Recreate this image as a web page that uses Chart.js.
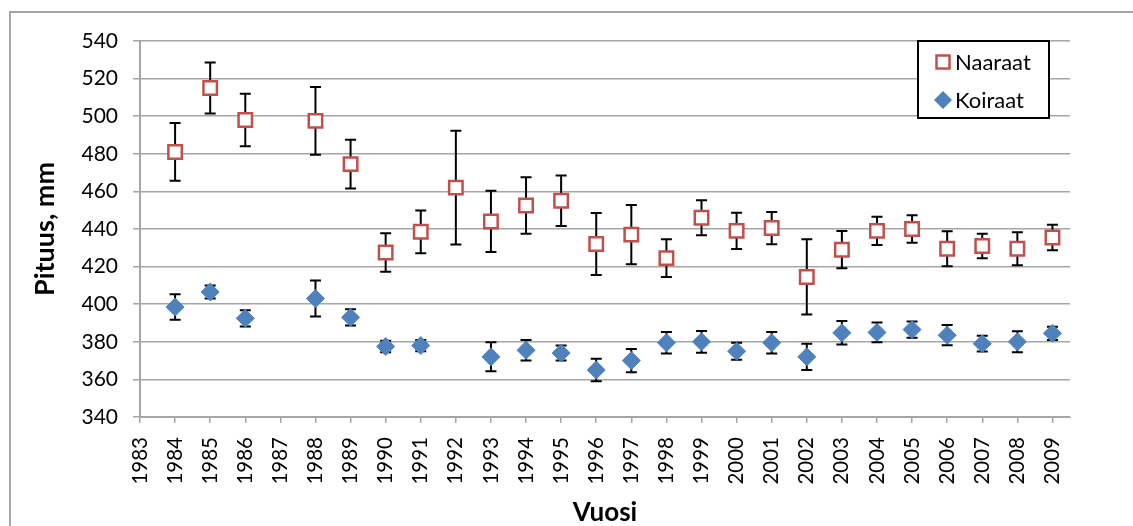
<!DOCTYPE html>
<html>
<head>
<meta charset="utf-8">
<script src="https://cdn.jsdelivr.net/npm/chart.js@4/dist/chart.umd.min.js"></script>
<style>
    html, body { margin: 0; padding: 0; background: #fff; overflow: hidden; }
    #frame { position: absolute; left: 9px; top: 11px; width: 1200px; height: 600px; border: 2px solid #a6a6a6; }
    #chart { position: absolute; left: 0; top: 0; }
</style>
</head>
<body>
<div id="frame"></div>
<canvas id="chart" width="1133" height="526"></canvas>
<script>
// Years shown on the x axis
const vuodet = [1983, 1984, 1985, 1986, 1987, 1988, 1989, 1990, 1991, 1992, 1993, 1994, 1995, 1996,
    1997, 1998, 1999, 2000, 2001, 2002, 2003, 2004, 2005, 2006, 2007, 2008, 2009];

// Naaraat: mean length (mm) and +/- deviation per year
const naaraatVuodet = [1984, 1985, 1986, 1988, 1989, 1990, 1991, 1992, 1993, 1994, 1995, 1996,
    1997, 1998, 1999, 2000, 2001, 2002, 2003, 2004, 2005, 2006, 2007, 2008, 2009];
const naaraatPituus = [481, 515, 498, 497.5, 474.5, 427.5, 438.5, 462, 444, 452.5, 455, 432,
    437, 424.5, 446, 439, 440.5, 414.5, 429, 439, 440, 429.5, 431, 429.5, 435.5];
const naaraatHajonta = [15.4, 13.5, 14, 18, 13, 10.2, 11.4, 30.2, 16.3, 15, 13.4, 16.5,
    15.7, 10, 9.3, 9.6, 8.6, 20, 9.9, 7.5, 7.3, 9.3, 6.5, 8.8, 6.8];

// Koiraat: mean length (mm) and +/- deviation per year
const koiraatVuodet = [1984, 1985, 1986, 1988, 1989, 1990, 1991, 1993, 1994, 1995, 1996,
    1997, 1998, 1999, 2000, 2001, 2002, 2003, 2004, 2005, 2006, 2007, 2008, 2009];
const koiraatPituus = [398.5, 406.5, 392.5, 403, 393, 377.5, 378, 372, 375.5, 374, 365,
    370, 379.5, 380, 375, 379.5, 372, 384.8, 385, 386.5, 383.5, 379, 380, 384.5];
const koiraatHajonta = [6.8, 3.5, 4.3, 9.6, 4.3, 3, 3, 7.7, 5.5, 4, 6,
    6.2, 5.7, 5.8, 4.5, 5.7, 7, 6.2, 5.3, 4.3, 5.4, 4.2, 5.6, 3.5];

const yTicks = [340, 360, 380, 400, 420, 440, 460, 480, 500, 520, 540];

const PUNAINEN = '#c0504d';
const SININEN = '#4f81bd';
const HARMAA = '#a6a6a6';
const FONTTI = 'Lato, "Open Sans", sans-serif';

function pisteet(vuodet, arvot) {
    return vuodet.map((v, i) => ({ x: v, y: arvot[i] }));
}

// error bars are drawn under the markers
const virhepalkit = {
    id: 'virhepalkit',
    beforeDatasetsDraw(chart) {
        const ctx = chart.ctx;
        const yScale = chart.scales.y;
        ctx.save();
        ctx.strokeStyle = '#000';
        ctx.lineWidth = 2;
        chart.data.datasets.forEach((ds, di) => {
            const meta = chart.getDatasetMeta(di);
            meta.data.forEach((pt, i) => {
                const arvo = ds.data[i].y;
                const e = ds.hajonta[i];
                const yYla = yScale.getPixelForValue(arvo + e);
                const yAla = yScale.getPixelForValue(arvo - e);
                const x = pt.x;
                ctx.beginPath();
                ctx.moveTo(x, yYla);
                ctx.lineTo(x, yAla);
                ctx.moveTo(x - 5.5, yYla);
                ctx.lineTo(x + 5.5, yYla);
                ctx.moveTo(x - 5.5, yAla);
                ctx.lineTo(x + 5.5, yAla);
                ctx.stroke();
            });
        });
        ctx.restore();
    }
};

// legend box in the upper right corner of the plot
const selite = {
    id: 'selite',
    afterDraw(chart) {
        const ctx = chart.ctx;
        const ca = chart.chartArea;
        const left = ca.right - 152, top = ca.top, w = 131, h = 77;
        ctx.save();
        ctx.fillStyle = '#fff';
        ctx.fillRect(left, top, w, h);
        ctx.strokeStyle = '#000';
        ctx.lineWidth = 2;
        ctx.strokeRect(left, top, w, h);

        chart.data.datasets.forEach((ds, i) => {
            const mx = left + 25;
            const my = top + 21 + i * 38;
            ctx.beginPath();
            if (ds.pointStyle === 'rect') {
                ctx.rect(mx - 6.5, my - 6.5, 13, 13);
                ctx.fillStyle = ds.pointBackgroundColor;
                ctx.fill();
                ctx.lineWidth = ds.pointBorderWidth;
                ctx.strokeStyle = ds.pointBorderColor;
                ctx.stroke();
            } else {
                ctx.moveTo(mx - 9, my);
                ctx.lineTo(mx, my - 9);
                ctx.lineTo(mx + 9, my);
                ctx.lineTo(mx, my + 9);
                ctx.closePath();
                ctx.fillStyle = ds.pointBackgroundColor;
                ctx.fill();
            }
            ctx.fillStyle = '#000';
            ctx.font = '22px ' + FONTTI;
            ctx.textBaseline = 'middle';
            ctx.textAlign = 'left';
            ctx.fillText(ds.label, left + 37, my + 1);
        });
        ctx.restore();
    }
};

new Chart(document.getElementById('chart').getContext('2d'), {
    type: 'scatter',
    data: {
        datasets: [
            {
                label: 'Naaraat',
                data: pisteet(naaraatVuodet, naaraatPituus),
                hajonta: naaraatHajonta,
                pointStyle: 'rect',
                pointRadius: 9.5,
                pointBorderWidth: 2.5,
                pointBackgroundColor: '#fff',
                pointBorderColor: PUNAINEN,
                showLine: false
            },
            {
                label: 'Koiraat',
                data: pisteet(koiraatVuodet, koiraatPituus),
                hajonta: koiraatHajonta,
                pointStyle: 'rectRot',
                pointRadius: 9,
                pointBorderWidth: 1,
                pointBackgroundColor: SININEN,
                pointBorderColor: SININEN,
                showLine: false
            }
        ]
    },
    options: {
        responsive: false,
        animation: false,
        devicePixelRatio: 1,
        events: [],
        layout: { padding: { left: 0, top: 41, right: 63, bottom: 0 } },
        plugins: {
            legend: { display: false },
            tooltip: { enabled: false }
        },
        scales: {
            x: {
                type: 'linear',
                min: 1983,
                max: 2009.5,
                afterBuildTicks: scale => { scale.ticks = vuodet.map(v => ({ value: v })); },
                afterFit: scale => { scale.height = 109; },
                grid: { drawOnChartArea: false, drawTicks: true, tickLength: 6, color: HARMAA, lineWidth: 1.5 },
                border: { display: true, color: HARMAA, width: 2 },
                ticks: {
                    autoSkip: false,
                    minRotation: 90,
                    maxRotation: 90,
                    padding: 14,
                    color: '#000',
                    font: { family: FONTTI, size: 20.5 },
                    callback: v => String(v)
                },
                title: {
                    display: true,
                    text: 'Vuosi',
                    color: '#000',
                    font: { family: FONTTI, size: 26, weight: 'bold', lineHeight: 1 },
                    padding: { top: 0, bottom: 0 }
                }
            },
            y: {
                min: 340,
                max: 540,
                afterBuildTicks: scale => { scale.ticks = yTicks.map(v => ({ value: v })); },
                afterFit: scale => { scale.width = 140; },
                grid: { color: HARMAA, lineWidth: 1.5, tickLength: 7 },
                border: { display: true, color: HARMAA, width: 2 },
                ticks: {
                    padding: 15,
                    color: '#000',
                    font: { family: FONTTI, size: 21 }
                },
                title: {
                    display: true,
                    text: 'Pituus, mm',
                    color: '#000',
                    font: { family: FONTTI, size: 27, weight: 'bold', lineHeight: 1 },
                    padding: { top: 32, bottom: 0 }
                }
            }
        }
    },
    plugins: [virhepalkit, selite]
});
</script>
</body>
</html>
